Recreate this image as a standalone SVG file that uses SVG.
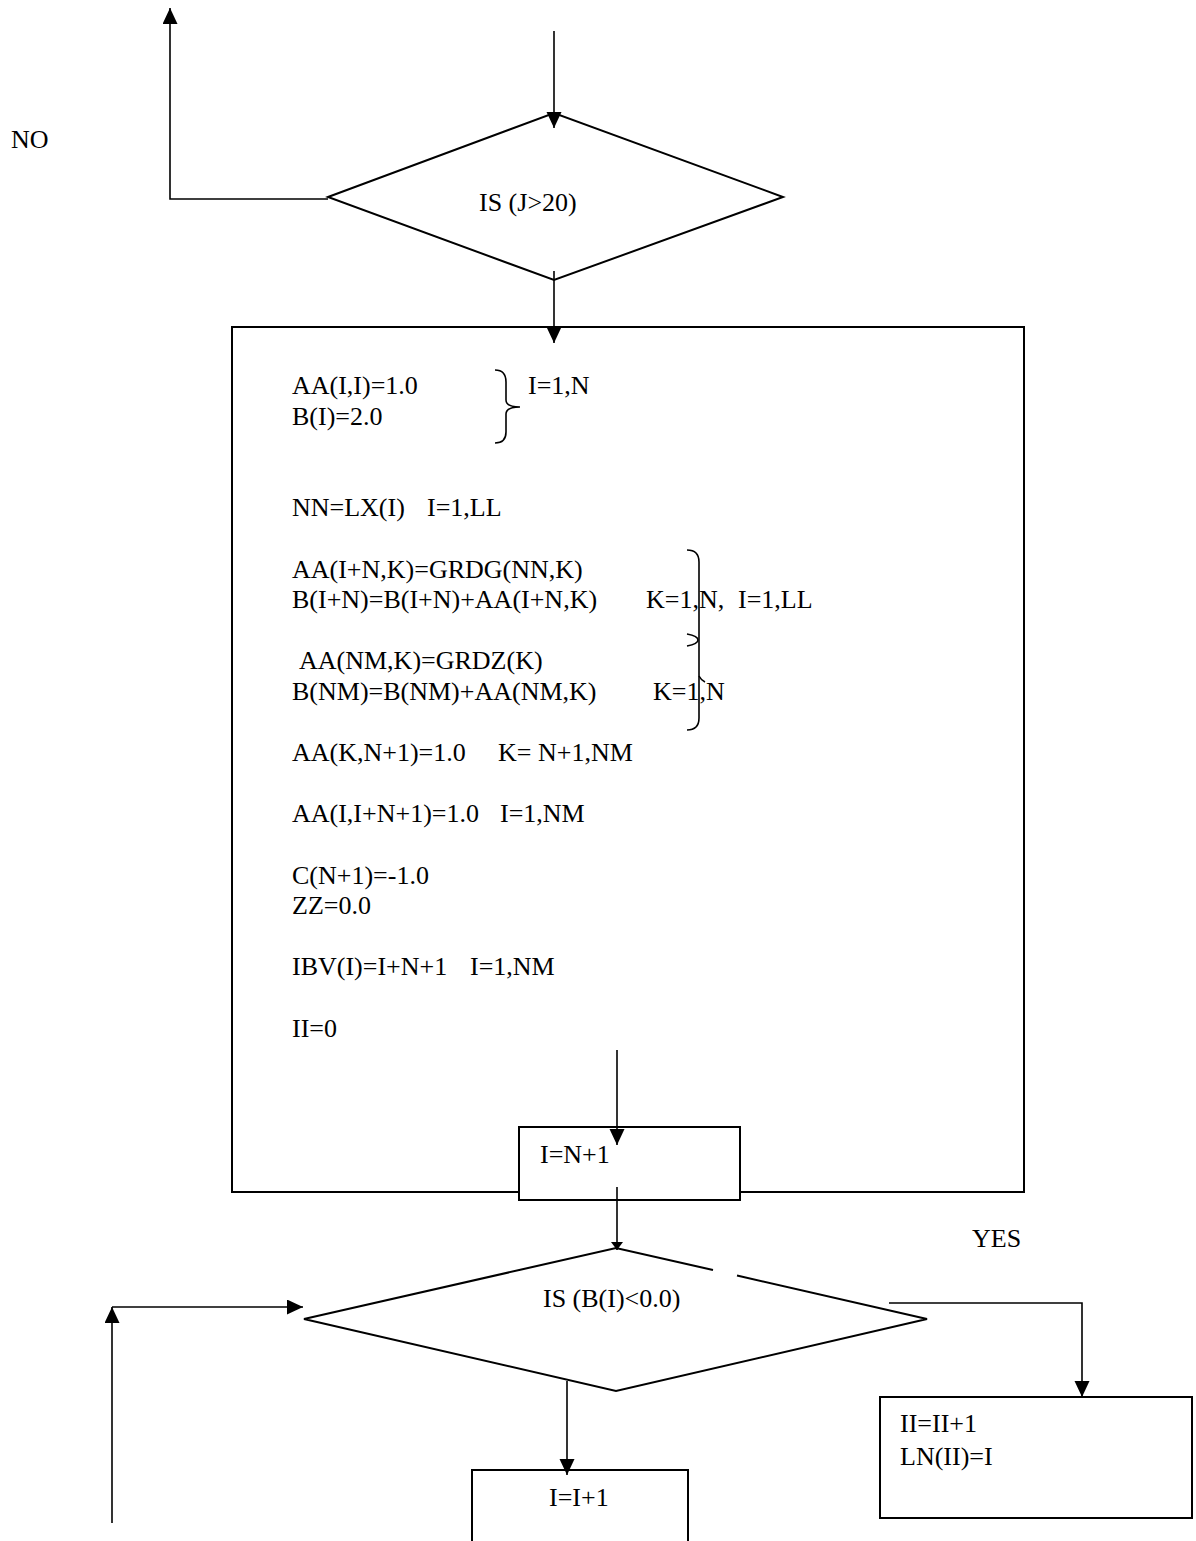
<svg xmlns="http://www.w3.org/2000/svg" width="1196" height="1541" viewBox="0 0 1196 1541">
<style>
text{font-family:"Liberation Serif","Times New Roman",serif;font-size:26px;fill:#000}
.shape{fill:#fff;stroke:#000;stroke-width:2}
.ln{fill:none;stroke:#000;stroke-width:1.6}
</style>
<defs>
<marker id="ah" markerUnits="userSpaceOnUse" markerWidth="16" markerHeight="16" refX="16" refY="7.5" orient="auto">
<path d="M0,0 L16,7.5 L0,15 Z" fill="#000"/>
</marker>
<marker id="ahs" markerUnits="userSpaceOnUse" markerWidth="8" markerHeight="12" refX="8" refY="6" orient="auto">
<path d="M0,0 L8,6 L0,12 Z" fill="#000"/>
</marker>
</defs>
<rect width="1196" height="1541" fill="#fff"/>

<g id="label-no"><text x="11" y="148">NO</text></g>
<g id="label-yes"><text x="972" y="1247">YES</text></g>

<g id="decision1">
<polygon class="shape" points="328,197 554,113 783,197 554,280"/>
<text x="479" y="211">IS (J&gt;20)</text>
</g>

<g id="init-box">
<rect class="shape" x="232" y="327" width="792" height="865"/>
<text x="292" y="394">AA(I,I)=1.0</text>
<text x="292" y="425">B(I)=2.0</text>
<path class="ln" d="M495,370 Q506,370 506,382 L506,400 Q506,407 520,407 Q506,407 506,414 L506,432 Q506,443 495,443"/>
<text x="528" y="394">I=1,N</text>
<text x="292" y="516">NN=LX(I)</text>
<text x="427" y="516">I=1,LL</text>
<text x="292" y="578">AA(I+N,K)=GRDG(NN,K)</text>
<text x="292" y="608">B(I+N)=B(I+N)+AA(I+N,K)</text>
<text x="646" y="608">K=1,N,</text>
<text x="738" y="608">I=1,LL</text>
<text x="299" y="669">AA(NM,K)=GRDZ(K)</text>
<text x="292" y="700">B(NM)=B(NM)+AA(NM,K)</text>
<text x="653" y="700">K=1,N</text>
<path class="ln" d="M687,550 Q699,550 699,562 L699,718 Q699,730 687,730"/>
<path class="ln" d="M687,634 Q698,636 698,640 Q698,644 687,646"/>
<path class="ln" d="M699,676 Q701,680 705,682"/>
<text x="292" y="761">AA(K,N+1)=1.0</text>
<text x="498" y="761">K= N+1,NM</text>
<text x="292" y="822">AA(I,I+N+1)=1.0</text>
<text x="500" y="822">I=1,NM</text>
<text x="292" y="884">C(N+1)=-1.0</text>
<text x="292" y="914">ZZ=0.0</text>
<text x="292" y="975">IBV(I)=I+N+1</text>
<text x="470" y="975">I=1,NM</text>
<text x="292" y="1037">II=0</text>
</g>

<g id="start-box">
<rect class="shape" x="519" y="1127" width="221" height="73"/>
<text x="540" y="1163">I=N+1</text>
</g>

<g id="decision2">
<path class="shape" d="M713,1270 L616,1248 L304,1319 L616,1391 L927,1319 L737,1275.5"/>
<text x="543" y="1307">IS (B(I)&lt;0.0)</text>
</g>

<g id="yes-box">
<rect class="shape" x="880" y="1397" width="312" height="121"/>
<text x="900" y="1432">II=II+1</text>
<text x="900" y="1465">LN(II)=I</text>
</g>

<g id="incr-box">
<path class="shape" d="M472,1545 L472,1470 L688,1470 L688,1545"/>
<text x="549" y="1506">I=I+1</text>
</g>

<g id="connectors">
<line class="ln" x1="554" y1="31" x2="554" y2="128" marker-end="url(#ah)"/>
<polyline class="ln" points="328,199 170,199 170,8" marker-end="url(#ah)"/>
<line class="ln" x1="554" y1="271" x2="554" y2="343" marker-end="url(#ah)"/>
<line class="ln" x1="617" y1="1050" x2="617" y2="1145" marker-end="url(#ah)"/>
<line class="ln" x1="617" y1="1187" x2="617" y2="1250" marker-end="url(#ahs)"/>
<polyline class="ln" points="889,1303 1082,1303 1082,1397" marker-end="url(#ah)"/>
<line class="ln" x1="567" y1="1381" x2="567" y2="1475" marker-end="url(#ah)"/>
<line class="ln" x1="112" y1="1523" x2="112" y2="1307" marker-end="url(#ah)"/>
<line class="ln" x1="112" y1="1307" x2="303" y2="1307" marker-end="url(#ah)"/>
</g>
</svg>
